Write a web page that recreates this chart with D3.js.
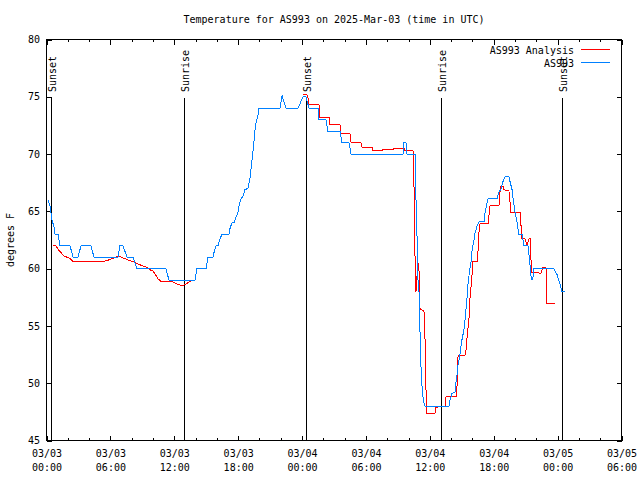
<!DOCTYPE html>
<html><head><meta charset="utf-8">
<script src="https://cdn.jsdelivr.net/npm/d3@7"></script>
<style>
body{margin:0;background:#fff}
text{font-family:"DejaVu Sans Mono","Liberation Mono",monospace;font-size:10px;fill:#000}
</style>
</head><body>
<svg id="chart" width="640" height="480"></svg>
<script>
const chartTitle = "Temperature for AS993 on 2025-Mar-03 (time in UTC)";
const yLabel = "degrees F";
const startTime = "2025-03-03T00:00:00Z";
const xDomain = ["2025-03-03T00:00:00Z", "2025-03-05T06:00:00Z"];
const yDomain = [45, 80];
const yTicks = [45, 50, 55, 60, 65, 70, 75, 80];
const seriesNames = ["AS993 Analysis", "AS993"];
const seriesColors = ["#ff0000", "#0080ff"];

// observed (hours since start, degrees F)
const obsHours = [0.14,0.33,0.52,0.70,0.80,1.08,1.27,2.21,2.49,2.96,
3.24,4.18,4.46,6.71,6.90,7.18,7.56,8.12,8.50,11.22,
11.50,13.95,14.13,14.98,15.17,15.64,15.73,15.92,16.11,16.29,
16.48,17.14,17.23,17.42,17.61,17.80,17.98,18.08,18.27,18.45,
18.64,18.92,19.11,19.20,19.30,19.39,19.49,19.58,19.67,19.86,
19.96,21.93,22.12,22.49,23.62,24.09,24.37,24.65,25.50,25.59,
26.25,26.43,27.56,27.75,28.41,28.60,33.48,33.57,33.76,33.86,
34.61,34.70,34.79,34.89,34.98,35.08,35.17,35.27,35.36,35.45,
35.55,37.80,37.89,38.08,38.36,38.46,38.55,38.65,38.74,38.83,
38.93,39.02,39.21,39.30,39.40,39.49,39.58,39.68,39.77,39.87,
39.96,40.05,40.15,40.24,40.34,40.43,40.62,41.09,41.18,41.28,
41.46,42.31,42.40,42.49,42.68,42.87,43.06,43.43,43.53,43.72,
43.81,43.90,44.00,44.18,44.28,44.37,44.66,44.75,44.84,45.22,
45.31,45.41,45.50,45.59,45.69,45.78,47.66,47.75,47.94,48.03,
48.22,48.31,48.41,48.69];
const obsTemps = [66,65.5,64.2,63.7,63,63,62,62,61,61,
62,62,61,61,62,62,61,61,60,60,
59,59,60,60,61,61,61.4,62,62,62.6,
63,63,63.5,64,64,64.5,64.9,65.5,66.1,66.3,
66.9,67,67.9,68.6,69.5,70.2,71.2,72.1,72.7,73.4,
74,74,75.1,74,74,75,75,74,74,73,
73,72,72,71,71,70,70,71,71,70,
70,66,63.1,59,58.1,54.4,51.4,49.7,48.8,48.3,
48,48,48.5,49.1,49.2,50.1,50.7,51.6,52,52.5,
53.3,53.8,54.7,55.5,56.5,57.4,58.6,59.4,60,60.6,
61.5,62,62.5,63.1,63.4,63.7,64.1,64.1,64.8,65.3,
66.1,66.1,66.4,66.7,66.9,67.6,68,68,67.6,66.9,
66.2,65.6,64.9,64.1,63.5,63,63,62.5,62,62,
61.2,60.3,59.4,59,59.3,60,60,59.8,59.5,59.2,
58.7,58.3,58,58];

// analysis (hours since start, degrees F), null = no analysis value
const anaHours = [0.61,0.89,1.08,1.36,1.64,1.93,2.21,2.49,5.21,5.68,
5.96,6.25,6.53,6.81,7.00,7.28,7.56,7.84,8.12,8.41,
8.59,8.87,9.16,9.44,9.72,10.00,10.28,10.47,10.75,11.79,
12.16,12.44,12.72,13.01,13.19,13.48,13.76,19.00,
24.09,24.46,24.56,24.65,25.59,25.68,26.53,26.62,27.56,27.65,
28.50,28.60,29.53,29.63,30.57,30.66,31.51,31.60,32.54,32.63,
33.57,33.67,34.42,34.51,34.61,34.70,34.79,34.89,34.98,35.08,
35.45,35.55,35.64,35.73,36.48,36.58,37.42,37.52,38.46,38.55,
38.65,39.30,39.40,39.49,39.58,39.68,39.77,39.87,39.96,40.05,
40.43,40.53,40.62,40.71,41.46,41.65,42.49,42.59,42.68,42.87,
42.96,43.15,43.43,43.62,44.47,44.56,44.66,44.94,45.03,45.13,
45.22,45.31,45.41,45.50,45.59,46.44,46.63,46.91,46.95,47.75];
const anaTemps = [62.0,62.0,61.7,61.4,61.1,61.0,60.9,60.6,60.6,60.7,
60.8,60.9,61.0,61.1,61.0,60.9,60.8,60.7,60.6,60.5,
60.4,60.3,60.2,60.1,59.9,59.8,59.4,59.1,58.9,58.9,
58.7,58.6,58.5,58.6,58.7,58.9,59.0,null,
75.2,75.2,74.9,74.3,74.3,73.2,73.2,72.6,72.6,71.8,
71.8,71.0,71.0,70.6,70.6,70.3,70.3,70.4,70.4,70.5,
70.5,70.3,70.3,67.5,61.0,58.0,59.3,60.5,59.9,56.5,
56.3,53.8,49.4,47.4,47.4,47.9,48.0,48.8,48.8,49.7,
52.4,52.4,52.9,53.9,54.8,55.7,57.4,58.4,59.4,60.6,
60.6,61.6,63.2,63.9,63.9,65.5,65.5,66.7,67.2,67.2,
66.9,66.8,66.8,64.9,64.9,63.8,62.6,62.6,62.3,62.1,
62.3,62.6,62.6,60.8,59.7,59.6,60.1,60.1,57.0,57.0];

const sunLabels = ["Sunset","Sunrise","Sunset","Sunrise","Sunset"];
const sunHours = [0.39, 12.94, 24.37, 37.03, 48.44];

const W = 640, H = 480;
const L = 46.5, R = 621.5, T = 39.5, B = 440.5;
const svg = d3.select("#chart");
svg.append("rect").attr("width", W).attr("height", H).attr("fill", "#fff");

const t0 = new Date(startTime).getTime();
const toDate = h => new Date(t0 + h * 3600000);
const x = d3.scaleUtc().domain(xDomain.map(d => new Date(d))).range([L, R]);
const y = d3.scaleLinear().domain(yDomain).range([B, T]);

// title
svg.append("text").attr("x", 334).attr("y", 23).attr("text-anchor", "middle").text(chartTitle);
// y label
svg.append("text").attr("transform", "translate(14,240) rotate(-90)").attr("text-anchor", "middle").text(yLabel);

// axes
const fmt1 = d3.utcFormat("%m/%d"), fmt2 = d3.utcFormat("%H:%M");
const majors = d3.utcHour.every(6).range(x.domain()[0], new Date(x.domain()[1].getTime() + 1));
const minors = d3.utcHour.every(2).range(x.domain()[0], new Date(x.domain()[1].getTime() + 1));

const gxb = svg.append("g").attr("transform", `translate(0,${B})`)
  .call(d3.axisBottom(x).tickValues(majors).tickSize(-5).tickPadding(0).tickFormat(""));
gxb.selectAll(".tick text").each(function(d) {
  const t = d3.select(this).attr("y", null).attr("dy", null);
  t.append("tspan").attr("x", 0).attr("y", 16.5).text(fmt1(d));
  t.append("tspan").attr("x", 0).attr("y", 30).text(fmt2(d));
});
svg.append("g").attr("transform", `translate(0,${B})`)
  .call(d3.axisBottom(x).tickValues(minors).tickSize(-2.5).tickFormat(""));
svg.append("g").attr("transform", `translate(0,${T})`)
  .call(d3.axisTop(x).tickValues(majors).tickSize(-5).tickFormat(""));
svg.append("g").attr("transform", `translate(0,${T})`)
  .call(d3.axisTop(x).tickValues(minors).tickSize(-2.5).tickFormat(""));
svg.append("g").attr("transform", `translate(${L},0)`)
  .call(d3.axisLeft(y).tickValues(yTicks).tickSize(-5).tickPadding(6.5).tickFormat(d3.format("d")));
svg.append("g").attr("transform", `translate(${R},0)`)
  .call(d3.axisRight(y).tickValues(yTicks).tickSize(-5).tickFormat(""));
svg.selectAll(".domain").remove();
svg.selectAll(".tick line").attr("stroke", "#000").attr("shape-rendering", "crispEdges");
svg.selectAll(".tick text").attr("font-family", null).attr("font-size", null).attr("fill", "#000");

// sunrise / sunset markers
sunHours.forEach((h, i) => {
  const xp = Math.round(x(toDate(h))) + 0.5;
  svg.append("line").attr("x1", xp).attr("x2", xp).attr("y1", 98).attr("y2", B)
    .attr("stroke", "#000").attr("shape-rendering", "crispEdges");
  svg.append("text").attr("transform", `translate(${xp + 4},92) rotate(-90)`).text(sunLabels[i]);
});

// series
const line = d3.line().defined(d => d.v != null).x(d => x(d.t)).y(d => y(d.v));
const anaData = anaHours.map((h, i) => ({t: toDate(h), v: anaTemps[i]}));
const obsData = obsHours.map((h, i) => ({t: toDate(h), v: obsTemps[i]}));
svg.append("path").datum(anaData).attr("d", line).attr("fill", "none")
  .attr("stroke", seriesColors[0]).attr("stroke-width", 1).attr("shape-rendering", "crispEdges");
svg.append("path").datum(obsData).attr("d", line).attr("fill", "none")
  .attr("stroke", seriesColors[1]).attr("stroke-width", 1).attr("shape-rendering", "crispEdges");

// legend
const legY = [49.5, 62.5];
seriesNames.forEach((n, i) => {
  svg.append("text").attr("x", 574).attr("y", legY[i] + 4.5).attr("text-anchor", "end").text(n);
  svg.append("line").attr("x1", 581).attr("x2", 610).attr("y1", legY[i]).attr("y2", legY[i])
    .attr("stroke", seriesColors[i]).attr("shape-rendering", "crispEdges");
});

// border
svg.append("rect").attr("x", L).attr("y", T).attr("width", R - L).attr("height", B - T)
  .attr("fill", "none").attr("stroke", "#000").attr("shape-rendering", "crispEdges");
</script>
</body></html>
